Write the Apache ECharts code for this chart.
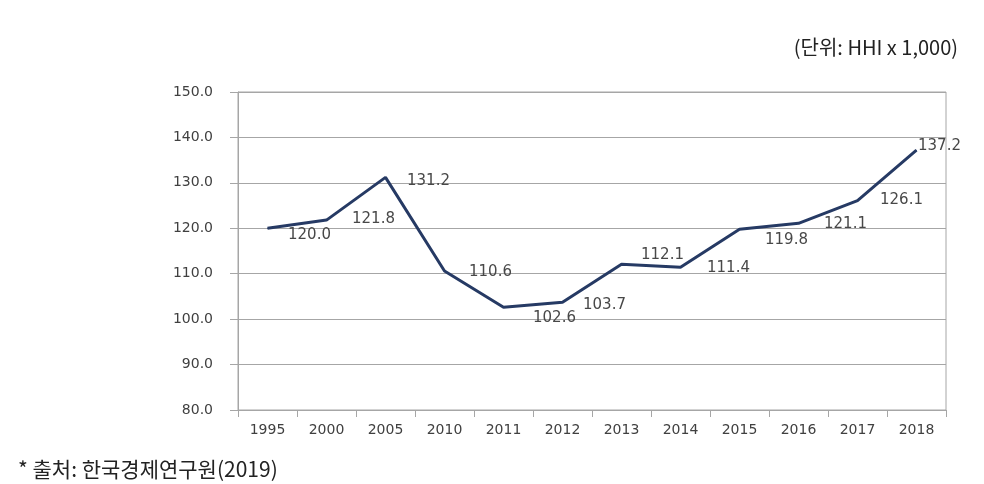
<!DOCTYPE html>
<html><head><meta charset="utf-8">
<script src="https://cdn.jsdelivr.net/npm/echarts@6/dist/echarts.min.js"></script>
<style>html,body{margin:0;padding:0;background:#fff}#c{width:984px;height:484px}</style>
</head><body><div id="c"></div>
<script>
const categories = ['1995','2000','2005','2010','2011','2012','2013','2014','2015','2016','2017','2018'];
const hhiValues = [120.0,121.8,131.2,110.6,102.6,103.7,112.1,111.4,119.8,121.1,126.1,137.2];
const yTicks = [80,90,100,110,120,130,140,150];
const unitText = '(단위: HHI x 1,000)';
const sourceText = '* 출처: 한국경제연구원(2019)';
// label nudges (style only), in px relative to each point
const labelNudge = [[42,7],[47,-1],[43,4],[46,1],[51,11],[42,3],[41,-9],[48,1],[47,11],[47,1],[44,0],[23,-4]];

const chart = echarts.init(document.getElementById('c'));
const grey = '#a6a6a6';
const txt = '#404040';
chart.setOption({
  animation:false,
  backgroundColor:'#fff',
  title:[
    {text:unitText,right:21,top:32,textStyle:{fontFamily:'"Noto Sans CJK KR", sans-serif',fontSize:20,fontWeight:'normal',color:'#222'}},
    {text:sourceText,left:13,top:454,textStyle:{fontFamily:'"Noto Sans CJK KR", sans-serif',fontSize:21,fontWeight:'normal',color:'#222'}}
  ],
  grid:{left:238,right:38,top:92,bottom:74,show:true,borderColor:grey,borderWidth:1},
  xAxis:{type:'category',data:categories,boundaryGap:true,
    axisLine:{lineStyle:{color:grey,width:1}},
    axisTick:{show:true,length:7,alignWithLabel:false,lineStyle:{color:grey}},
    axisLabel:{margin:13,color:txt,fontFamily:'DejaVu Sans',fontSize:14}},
  yAxis:{type:'value',min:yTicks[0],max:yTicks[yTicks.length-1],interval:10,
    axisLine:{show:true,lineStyle:{color:grey,width:1}},
    axisTick:{show:true,length:8,lineStyle:{color:grey}},
    splitLine:{lineStyle:{color:grey,width:1}},
    axisLabel:{margin:25,color:txt,fontFamily:'DejaVu Sans',fontSize:14,formatter:v=>v.toFixed(1)}},
  series:[{
    type:'line',
    data:hhiValues.map((v,i)=>({value:v,label:{offset:labelNudge[i]}})),
    symbol:'circle',symbolSize:1,
    lineStyle:{color:'#263a64',width:3},
    itemStyle:{color:'#263a64'},
    label:{show:true,position:'inside',color:'#484848',fontFamily:'DejaVu Sans',fontSize:15,formatter:p=>p.value.toFixed(1)}
  }]
});
</script></body></html>
